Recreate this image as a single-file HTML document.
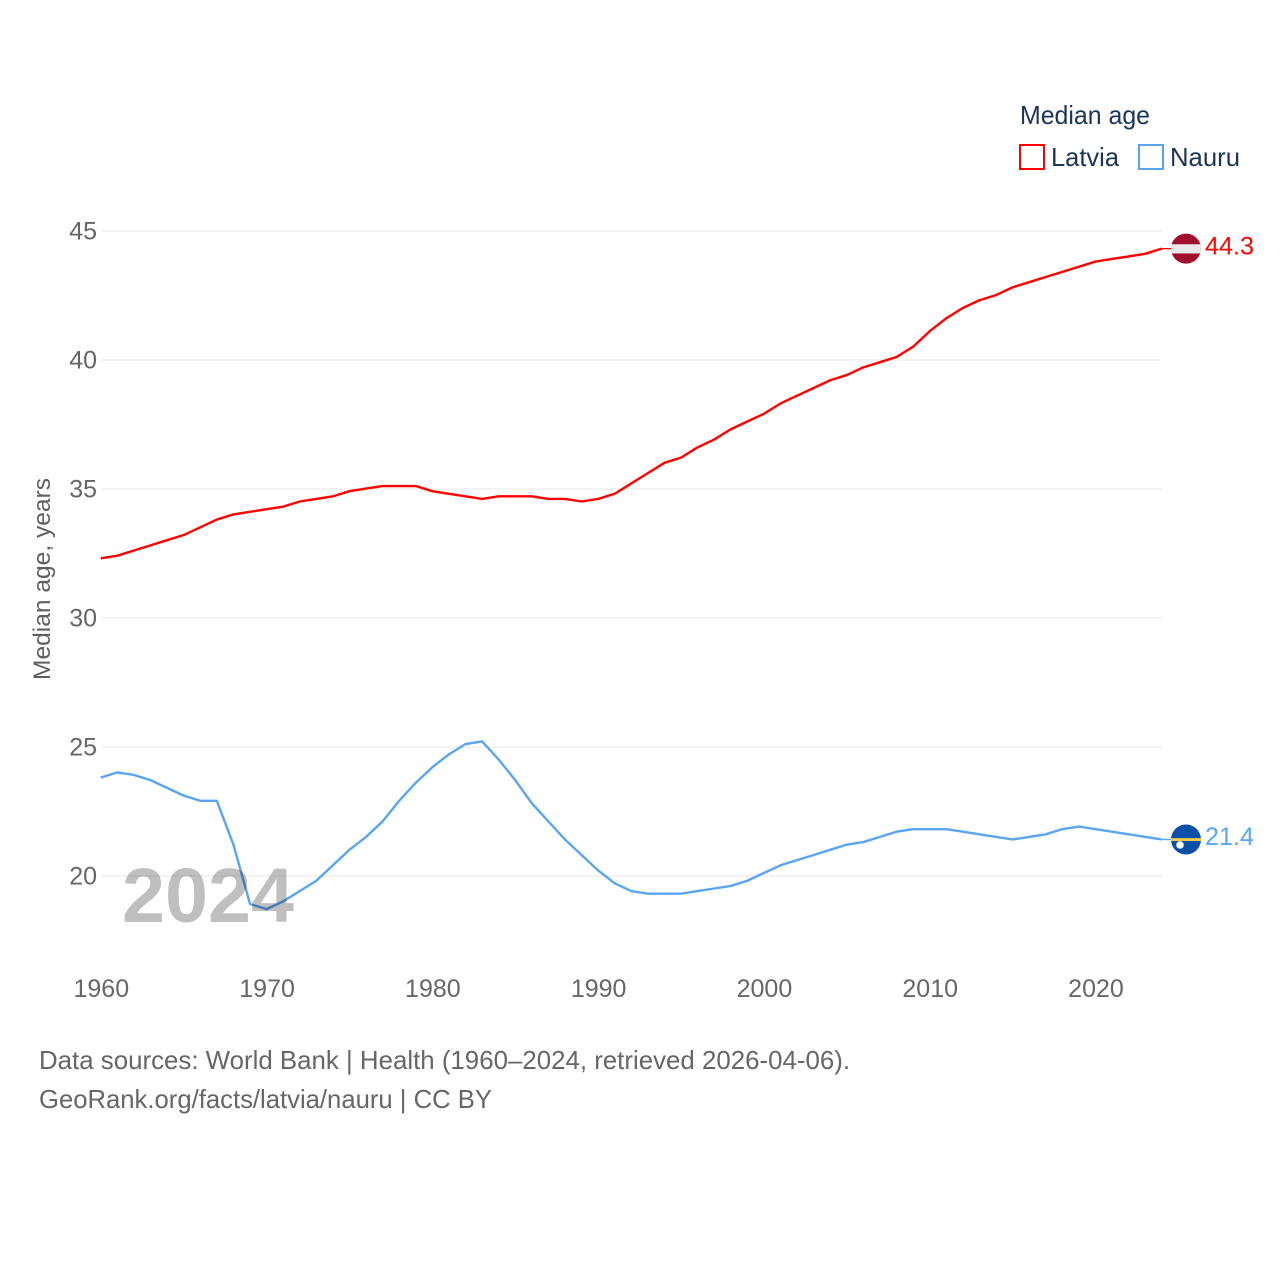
<!DOCTYPE html>
<html lang="en">
<head>
<meta charset="utf-8">
<title>Median age: Latvia and Nauru</title>
<style>
html,body{margin:0;padding:0;background:#fff;}
svg{display:block;font-family:"Liberation Sans",sans-serif;}
</style>
</head>
<body>
<svg id="chart" width="1280" height="1280" viewBox="0 0 1280 1280" xmlns="http://www.w3.org/2000/svg">
  <rect x="0" y="0" width="1280" height="1280" fill="#ffffff"/>
  <g id="grid"></g>
  <g id="yticks"></g>
  <g id="xticks"></g>
  <text transform="translate(50,680) rotate(-90)" font-size="24" fill="#5f5f5f" textLength="202" lengthAdjust="spacingAndGlyphs">Median age, years</text>
  <g id="series"></g>
  <text x="122" y="922" font-size="77" font-weight="700" fill="#000000" fill-opacity="0.25" textLength="172" lengthAdjust="spacingAndGlyphs">2024</text>
  <g id="endmarks"></g>
  <g>
    <text x="1020" y="124" font-size="26" fill="#1a3558" textLength="130" lengthAdjust="spacingAndGlyphs">Median age</text>
    <g>
      <rect x="1020" y="145" width="24" height="24" fill="#ffffff" stroke="#ff0000" stroke-width="2"/>
      <text x="1051" y="166" font-size="26" fill="#1a3558" textLength="68" lengthAdjust="spacingAndGlyphs">Latvia</text>
    </g>
    <g>
      <rect x="1139" y="145" width="24" height="24" fill="#ffffff" stroke="#5aa5ef" stroke-width="2"/>
      <text x="1170" y="166" font-size="26" fill="#1a3558" textLength="70" lengthAdjust="spacingAndGlyphs">Nauru</text>
    </g>
  </g>
  <g>
    <text x="39" y="1069" font-size="26" fill="#666666" textLength="811" lengthAdjust="spacingAndGlyphs">Data sources: World Bank | Health (1960–2024, retrieved 2026-04-06).</text>
    <text x="39" y="1108" font-size="26" fill="#666666" textLength="453" lengthAdjust="spacingAndGlyphs">GeoRank.org/facts/latvia/nauru | CC BY</text>
  </g>
</svg>
<script>
const firstYear = 1960;
const xTickLabels = [1960, 1970, 1980, 1990, 2000, 2010, 2020];
const yTickLabels = [20, 25, 30, 35, 40, 45];
const latviaValues = [
  32.3, 32.4, 32.6, 32.8, 33.0, 33.2, 33.5, 33.8, 34.0, 34.1,
  34.2, 34.3, 34.5, 34.6, 34.7, 34.9, 35.0, 35.1, 35.1, 35.1,
  34.9, 34.8, 34.7, 34.6, 34.7, 34.7, 34.7, 34.6, 34.6, 34.5,
  34.6, 34.8, 35.2, 35.6, 36.0, 36.2, 36.6, 36.9, 37.3, 37.6,
  37.9, 38.3, 38.6, 38.9, 39.2, 39.4, 39.7, 39.9, 40.1, 40.5,
  41.1, 41.6, 42.0, 42.3, 42.5, 42.8, 43.0, 43.2, 43.4, 43.6,
  43.8, 43.9, 44.0, 44.1, 44.3
];
const nauruValues = [
  23.8, 24.0, 23.9, 23.7, 23.4, 23.1, 22.9, 22.9, 21.2, 18.9,
  18.7, 19.0, 19.4, 19.8, 20.4, 21.0, 21.5, 22.1, 22.9, 23.6,
  24.2, 24.7, 25.1, 25.2, 24.5, 23.7, 22.8, 22.1, 21.4, 20.8,
  20.2, 19.7, 19.4, 19.3, 19.3, 19.3, 19.4, 19.5, 19.6, 19.8,
  20.1, 20.4, 20.6, 20.8, 21.0, 21.2, 21.3, 21.5, 21.7, 21.8,
  21.8, 21.8, 21.7, 21.6, 21.5, 21.4, 21.5, 21.6, 21.8, 21.9,
  21.8, 21.7, 21.6, 21.5, 21.4
];

const NS = 'http://www.w3.org/2000/svg';
function xScale(year) { return 100.8 + (year - 1960) * 1061 / 64; }
function yScale(value) { return 875.6 - (value - 20) * 645 / 25; }
function make(tag, attrs, parent) {
  const el = document.createElementNS(NS, tag);
  for (const k in attrs) el.setAttribute(k, attrs[k]);
  parent.appendChild(el);
  return el;
}

const gridG = document.getElementById('grid');
const yG = document.getElementById('yticks');
const xG = document.getElementById('xticks');
const seriesG = document.getElementById('series');
const endG = document.getElementById('endmarks');

yTickLabels.forEach(function (v) {
  const gy = Math.round(yScale(v) + 0.4);
  const line = make('line', {x1: 101.5, x2: 1162, y1: gy, y2: gy, stroke: '#e8e8e8', 'stroke-width': 1}, gridG);
  
  
  const t = make('text', {x: 97, y: gy + 8.5, 'text-anchor': 'end', 'font-size': 25, fill: '#666666'}, yG);
  
  
  t.textContent = String(v);
});

xTickLabels.forEach(function (yr) {
  const t = make('text', {x: xScale(yr) + 0.5, y: 997, 'text-anchor': 'middle', 'font-size': 25, fill: '#666666'}, xG);
  
  
  t.textContent = String(yr);
});

function pathFor(values) {
  return values.map(function (v, i) {
    return (i ? 'L' : 'M') + xScale(firstYear + i).toFixed(2) + ' ' + yScale(v).toFixed(2);
  }).join(' ');
}

function drawSeries(values, color, key) {
  const lastYear = firstYear + values.length - 1;
  const lastVal = values[values.length - 1];
  const p = make('path', {d: pathFor(values), fill: 'none', stroke: color, 'stroke-width': 2.4, 'stroke-linejoin': 'round'}, seriesG);
  
  
  const ey = yScale(lastVal);
  const lead = make('line', {x1: xScale(lastYear), x2: xScale(lastYear) + 10, y1: ey, y2: ey, stroke: color, 'stroke-width': 1.4}, endG);
  
  
  return ey;
}

const latviaY = drawSeries(latviaValues, '#ff0000', 'latvia');
const nauruY = drawSeries(nauruValues, '#5aa5ef', 'nauru');

/* Latvia flag marker */
const flagCx = 1186;
const lf = make('g', {}, endG);


const lfy = latviaY;
make('circle', {cx: flagCx, cy: lfy, r: 15, fill: '#a00f2b'}, lf);
make('rect', {x: flagCx - 14.9, y: lfy - 4.4, width: 29.8, height: 9.2, fill: '#e9e9e9'}, lf);

/* Nauru flag marker */
const nf = make('g', {}, endG);


const nfy = nauruY;
make('circle', {cx: flagCx, cy: nfy, r: 15, fill: '#0a4fa8'}, nf);
make('rect', {x: flagCx - 15, y: nfy - 1.3, width: 30, height: 2.8, fill: '#f7cf45'}, nf);
make('circle', {cx: flagCx - 6, cy: nfy + 5.5, r: 3.8, fill: '#ffffff'}, nf);

const lv = make('text', {x: 1205, y: latviaY + 6, 'font-size': 25, fill: '#ff0000', textLength: 49, lengthAdjust: 'spacingAndGlyphs'}, endG);


lv.textContent = latviaValues[latviaValues.length - 1].toFixed(1);

const nv = make('text', {x: 1205, y: nauruY + 5.5, 'font-size': 25, fill: '#5aa5ef', textLength: 49, lengthAdjust: 'spacingAndGlyphs'}, endG);


nv.textContent = nauruValues[nauruValues.length - 1].toFixed(1);
</script>
</body>
</html>
